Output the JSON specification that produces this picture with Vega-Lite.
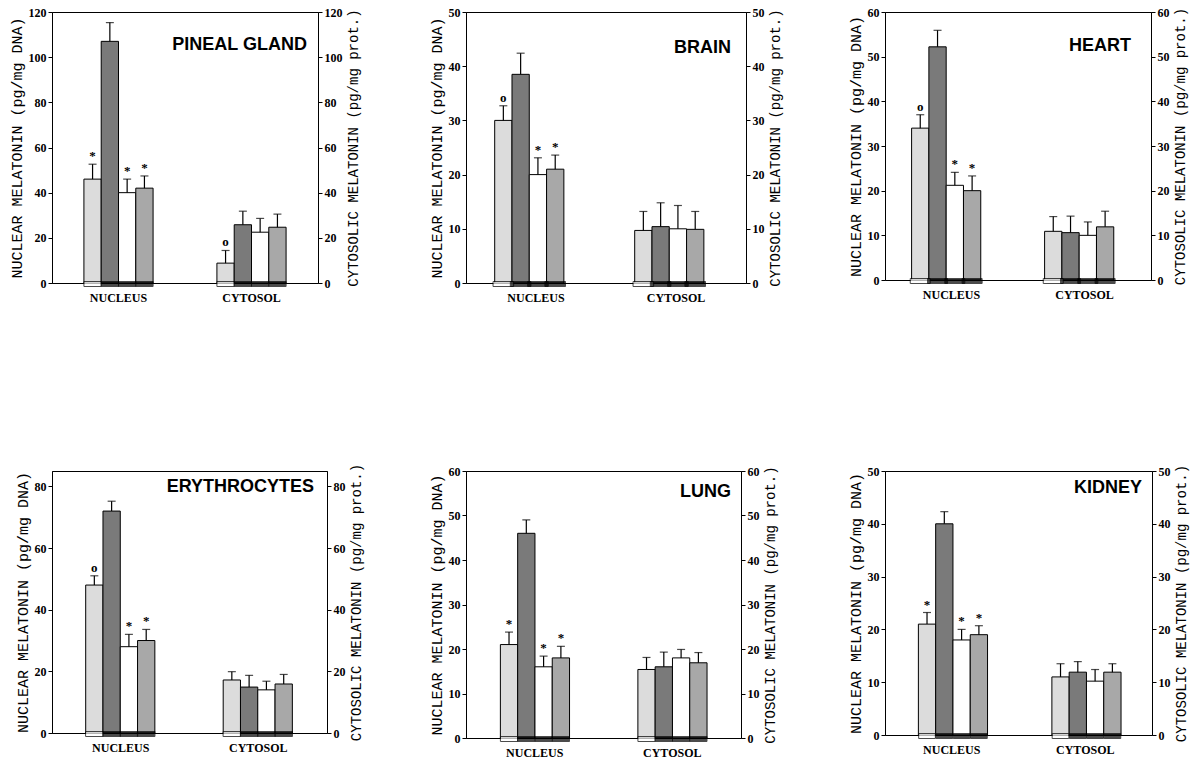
{
"$schema": "https://vega.github.io/schema/vega-lite/v6.json",
"background": "white",
"padding": {"left": 8, "top": 5, "right": 3, "bottom": 3},
"datasets": {"d": [
{"organ":"PINEAL GLAND","comp":"NUCLEUS","grp":"A","v":46,"hi":52.6,"sig":"*"},
{"organ":"PINEAL GLAND","comp":"NUCLEUS","grp":"B","v":107,"hi":115.3,"sig":""},
{"organ":"PINEAL GLAND","comp":"NUCLEUS","grp":"C","v":40,"hi":46,"sig":"*"},
{"organ":"PINEAL GLAND","comp":"NUCLEUS","grp":"D","v":42,"hi":47.4,"sig":"*"},
{"organ":"PINEAL GLAND","comp":"CYTOSOL","grp":"A","v":8.8,"hi":14.4,"sig":"o"},
{"organ":"PINEAL GLAND","comp":"CYTOSOL","grp":"B","v":25.8,"hi":31.8,"sig":""},
{"organ":"PINEAL GLAND","comp":"CYTOSOL","grp":"C","v":22.5,"hi":28.6,"sig":""},
{"organ":"PINEAL GLAND","comp":"CYTOSOL","grp":"D","v":24.7,"hi":30.5,"sig":""},
{"organ":"BRAIN","comp":"NUCLEUS","grp":"A","v":30,"hi":32.7,"sig":"o"},
{"organ":"BRAIN","comp":"NUCLEUS","grp":"B","v":38.5,"hi":42.4,"sig":""},
{"organ":"BRAIN","comp":"NUCLEUS","grp":"C","v":20,"hi":23.1,"sig":"*"},
{"organ":"BRAIN","comp":"NUCLEUS","grp":"D","v":21,"hi":23.6,"sig":"*"},
{"organ":"BRAIN","comp":"CYTOSOL","grp":"A","v":9.7,"hi":13.2,"sig":""},
{"organ":"BRAIN","comp":"CYTOSOL","grp":"B","v":10.4,"hi":14.8,"sig":""},
{"organ":"BRAIN","comp":"CYTOSOL","grp":"C","v":10,"hi":14.3,"sig":""},
{"organ":"BRAIN","comp":"CYTOSOL","grp":"D","v":9.9,"hi":13.2,"sig":""},
{"organ":"HEART","comp":"NUCLEUS","grp":"A","v":34,"hi":37,"sig":"o"},
{"organ":"HEART","comp":"NUCLEUS","grp":"B","v":52.2,"hi":55.9,"sig":""},
{"organ":"HEART","comp":"NUCLEUS","grp":"C","v":21.2,"hi":24.1,"sig":"*"},
{"organ":"HEART","comp":"NUCLEUS","grp":"D","v":20,"hi":23.3,"sig":"*"},
{"organ":"HEART","comp":"CYTOSOL","grp":"A","v":10.9,"hi":14.2,"sig":""},
{"organ":"HEART","comp":"CYTOSOL","grp":"B","v":10.6,"hi":14.3,"sig":""},
{"organ":"HEART","comp":"CYTOSOL","grp":"C","v":10,"hi":13,"sig":""},
{"organ":"HEART","comp":"CYTOSOL","grp":"D","v":11.9,"hi":15.4,"sig":""},
{"organ":"ERYTHROCYTES","comp":"NUCLEUS","grp":"A","v":48,"hi":51,"sig":"o"},
{"organ":"ERYTHROCYTES","comp":"NUCLEUS","grp":"B","v":72,"hi":75.2,"sig":""},
{"organ":"ERYTHROCYTES","comp":"NUCLEUS","grp":"C","v":28,"hi":32,"sig":"*"},
{"organ":"ERYTHROCYTES","comp":"NUCLEUS","grp":"D","v":30,"hi":33.6,"sig":"*"},
{"organ":"ERYTHROCYTES","comp":"CYTOSOL","grp":"A","v":17.2,"hi":19.9,"sig":""},
{"organ":"ERYTHROCYTES","comp":"CYTOSOL","grp":"B","v":14.9,"hi":18.7,"sig":""},
{"organ":"ERYTHROCYTES","comp":"CYTOSOL","grp":"C","v":14,"hi":16.8,"sig":""},
{"organ":"ERYTHROCYTES","comp":"CYTOSOL","grp":"D","v":15.9,"hi":19,"sig":""},
{"organ":"LUNG","comp":"NUCLEUS","grp":"A","v":21,"hi":23.8,"sig":"*"},
{"organ":"LUNG","comp":"NUCLEUS","grp":"B","v":46,"hi":49,"sig":""},
{"organ":"LUNG","comp":"NUCLEUS","grp":"C","v":16,"hi":18.4,"sig":"*"},
{"organ":"LUNG","comp":"NUCLEUS","grp":"D","v":18,"hi":20.6,"sig":"*"},
{"organ":"LUNG","comp":"CYTOSOL","grp":"A","v":15.4,"hi":18.1,"sig":""},
{"organ":"LUNG","comp":"CYTOSOL","grp":"B","v":16,"hi":19.3,"sig":""},
{"organ":"LUNG","comp":"CYTOSOL","grp":"C","v":18,"hi":19.9,"sig":""},
{"organ":"LUNG","comp":"CYTOSOL","grp":"D","v":16.9,"hi":19.2,"sig":""},
{"organ":"KIDNEY","comp":"NUCLEUS","grp":"A","v":21,"hi":23.2,"sig":"*"},
{"organ":"KIDNEY","comp":"NUCLEUS","grp":"B","v":40,"hi":42.3,"sig":""},
{"organ":"KIDNEY","comp":"NUCLEUS","grp":"C","v":18,"hi":20,"sig":"*"},
{"organ":"KIDNEY","comp":"NUCLEUS","grp":"D","v":19,"hi":20.7,"sig":"*"},
{"organ":"KIDNEY","comp":"CYTOSOL","grp":"A","v":11,"hi":13.5,"sig":""},
{"organ":"KIDNEY","comp":"CYTOSOL","grp":"B","v":11.9,"hi":13.9,"sig":""},
{"organ":"KIDNEY","comp":"CYTOSOL","grp":"C","v":10.2,"hi":12.4,"sig":""},
{"organ":"KIDNEY","comp":"CYTOSOL","grp":"D","v":11.9,"hi":13.5,"sig":""}
]},
"columns": 3,
"align": "each",
"spacing": {"row": 158, "column": 64},
"concat": [
{"width": 266, "height": 271, "data": {"name": "d"},
 "title": {"text": "PINEAL GLAND", "anchor": "end", "frame": "group", "orient": "top", "offset": -38, "dy": 24, "baseline": "alphabetic", "dx": -11},
 "transform": [{"filter": "datum.organ === 'PINEAL GLAND'"}],
 "encoding": {
  "x": {"field": "comp", "type": "nominal", "sort": ["NUCLEUS", "CYTOSOL"], "title": null, "scale": {"paddingInner": 0.48, "paddingOuter": 0.24}},
  "xOffset": {"field": "grp", "type": "nominal", "scale": {"paddingInner": 0, "paddingOuter": 0}}
 },
 "layer": [
  {"layer": [
   {"mark": {"type": "bar", "stroke": "black", "strokeWidth": 1}, "encoding": {"y": {"field": "v", "type": "quantitative", "scale": {"domain": [0, 120], "nice": false}, "axis": {"values": [0,20,40,60,80,100,120], "title": "NUCLEAR MELATONIN (pg/mg DNA)"}}, "fill": {"field": "grp", "type": "nominal", "scale": {"domain": ["A","B","C","D"], "range": ["#dcdcdc","#7a7a7a","#ffffff","#a8a8a8"]}, "legend": null}}},
   {"mark": {"type": "rule", "strokeWidth": 1.2, "color": "black"}, "encoding": {"y": {"field": "v", "type": "quantitative"}, "y2": {"field": "hi"}}},
   {"mark": {"type": "tick", "size": 8, "thickness": 1.2, "color": "black"}, "encoding": {"y": {"field": "hi", "type": "quantitative"}}},
   {"mark": {"type": "tick", "size": 17.3, "thickness": 5, "yOffset": 1, "stroke": "black", "strokeWidth": 1}, "encoding": {"y": {"datum": 0}, "fill": {"condition": {"test": "datum.grp === 'A'", "value": "white"}, "value": "black"}}},
   {"mark": {"type": "text", "dy": -8, "font": "Liberation Serif", "fontSize": 13, "fontWeight": "bold", "color": "black"}, "encoding": {"y": {"field": "hi", "type": "quantitative"}, "text": {"field": "sig"}}}
  ]},
  {"mark": {"type": "bar", "opacity": 0}, "encoding": {"y": {"field": "v", "type": "quantitative", "scale": {"domain": [0, 120], "nice": false}, "axis": {"orient": "right", "values": [0,20,40,60,80,100,120], "title": "CYTOSOLIC MELATONIN (pg/mg prot.)", "titleAngle": 270, "titleBaseline": "top", "titleFontSize": 14}}}}
 ],
 "resolve": {"scale": {"y": "independent"}}
},
{"width": 280, "height": 271, "data": {"name": "d"},
 "title": {"text": "BRAIN", "anchor": "end", "frame": "group", "orient": "top", "offset": -40, "dy": 25, "baseline": "alphabetic", "dx": -15},
 "transform": [{"filter": "datum.organ === 'BRAIN'"}],
 "encoding": {
  "x": {"field": "comp", "type": "nominal", "sort": ["NUCLEUS", "CYTOSOL"], "title": null, "scale": {"paddingInner": 0.41, "paddingOuter": 0.205}},
  "xOffset": {"field": "grp", "type": "nominal", "scale": {"paddingInner": 0, "paddingOuter": 0}}
 },
 "layer": [
  {"layer": [
   {"mark": {"type": "bar", "stroke": "black", "strokeWidth": 1}, "encoding": {"y": {"field": "v", "type": "quantitative", "scale": {"domain": [0, 50], "nice": false}, "axis": {"values": [0,10,20,30,40,50], "title": "NUCLEAR MELATONIN (pg/mg DNA)"}}, "fill": {"field": "grp", "type": "nominal", "scale": {"domain": ["A","B","C","D"], "range": ["#dcdcdc","#7a7a7a","#ffffff","#a8a8a8"]}, "legend": null}}},
   {"mark": {"type": "rule", "strokeWidth": 1.2, "color": "black"}, "encoding": {"y": {"field": "v", "type": "quantitative"}, "y2": {"field": "hi"}}},
   {"mark": {"type": "tick", "size": 8, "thickness": 1.2, "color": "black"}, "encoding": {"y": {"field": "hi", "type": "quantitative"}}},
   {"mark": {"type": "tick", "size": 20.6, "thickness": 5, "yOffset": 1, "stroke": "black", "strokeWidth": 1}, "encoding": {"y": {"datum": 0}, "fill": {"condition": {"test": "datum.grp === 'A'", "value": "white"}, "value": "black"}}},
   {"mark": {"type": "text", "dy": -8, "font": "Liberation Serif", "fontSize": 13, "fontWeight": "bold", "color": "black"}, "encoding": {"y": {"field": "hi", "type": "quantitative"}, "text": {"field": "sig"}}}
  ]},
  {"mark": {"type": "bar", "opacity": 0}, "encoding": {"y": {"field": "v", "type": "quantitative", "scale": {"domain": [0, 50], "nice": false}, "axis": {"orient": "right", "values": [0,10,20,30,40,50], "title": "CYTOSOLIC MELATONIN (pg/mg prot.)", "titleAngle": 270, "titleBaseline": "top", "titleFontSize": 14}}}}
 ],
 "resolve": {"scale": {"y": "independent"}}
},
{"width": 266, "height": 268, "data": {"name": "d"},
 "title": {"text": "HEART", "anchor": "end", "frame": "group", "orient": "top", "offset": -37, "dy": 26, "baseline": "alphabetic", "dx": -20},
 "transform": [{"filter": "datum.organ === 'HEART'"}],
 "encoding": {
  "x": {"field": "comp", "type": "nominal", "sort": ["NUCLEUS", "CYTOSOL"], "title": null, "scale": {"paddingInner": 0.4, "paddingOuter": 0.2}},
  "xOffset": {"field": "grp", "type": "nominal", "scale": {"paddingInner": 0, "paddingOuter": 0}}
 },
 "layer": [
  {"layer": [
   {"mark": {"type": "bar", "stroke": "black", "strokeWidth": 1}, "encoding": {"y": {"field": "v", "type": "quantitative", "scale": {"domain": [0, 60], "nice": false}, "axis": {"values": [0,10,20,30,40,50,60], "title": "NUCLEAR MELATONIN (pg/mg DNA)"}}, "fill": {"field": "grp", "type": "nominal", "scale": {"domain": ["A","B","C","D"], "range": ["#dcdcdc","#7a7a7a","#ffffff","#a8a8a8"]}, "legend": null}}},
   {"mark": {"type": "rule", "strokeWidth": 1.2, "color": "black"}, "encoding": {"y": {"field": "v", "type": "quantitative"}, "y2": {"field": "hi"}}},
   {"mark": {"type": "tick", "size": 8, "thickness": 1.2, "color": "black"}, "encoding": {"y": {"field": "hi", "type": "quantitative"}}},
   {"mark": {"type": "tick", "size": 20, "thickness": 5, "yOffset": 1, "stroke": "black", "strokeWidth": 1}, "encoding": {"y": {"datum": 0}, "fill": {"condition": {"test": "datum.grp === 'A'", "value": "white"}, "value": "black"}}},
   {"mark": {"type": "text", "dy": -8, "font": "Liberation Serif", "fontSize": 13, "fontWeight": "bold", "color": "black"}, "encoding": {"y": {"field": "hi", "type": "quantitative"}, "text": {"field": "sig"}}}
  ]},
  {"mark": {"type": "bar", "opacity": 0}, "encoding": {"y": {"field": "v", "type": "quantitative", "scale": {"domain": [0, 60], "nice": false}, "axis": {"orient": "right", "values": [0,10,20,30,40,50,60], "title": "CYTOSOLIC MELATONIN (pg/mg prot.)", "titleAngle": 270, "titleBaseline": "top", "titleFontSize": 14}}}}
 ],
 "resolve": {"scale": {"y": "independent"}}
},
{"width": 275, "height": 262, "data": {"name": "d"},
 "title": {"text": "ERYTHROCYTES", "anchor": "end", "frame": "group", "orient": "top", "offset": -29, "dy": 18, "baseline": "alphabetic", "dx": -13},
 "transform": [{"filter": "datum.organ === 'ERYTHROCYTES'"}],
 "encoding": {
  "x": {"field": "comp", "type": "nominal", "sort": ["NUCLEUS", "CYTOSOL"], "title": null, "scale": {"paddingInner": 0.49, "paddingOuter": 0.245}},
  "xOffset": {"field": "grp", "type": "nominal", "scale": {"paddingInner": 0, "paddingOuter": 0}}
 },
 "layer": [
  {"layer": [
   {"mark": {"type": "bar", "stroke": "black", "strokeWidth": 1}, "encoding": {"y": {"field": "v", "type": "quantitative", "scale": {"domain": [0, 85], "nice": false}, "axis": {"values": [0,20,40,60,80], "title": "NUCLEAR MELATONIN (pg/mg DNA)"}}, "fill": {"field": "grp", "type": "nominal", "scale": {"domain": ["A","B","C","D"], "range": ["#dcdcdc","#7a7a7a","#ffffff","#a8a8a8"]}, "legend": null}}},
   {"mark": {"type": "rule", "strokeWidth": 1.2, "color": "black"}, "encoding": {"y": {"field": "v", "type": "quantitative"}, "y2": {"field": "hi"}}},
   {"mark": {"type": "tick", "size": 8, "thickness": 1.2, "color": "black"}, "encoding": {"y": {"field": "hi", "type": "quantitative"}}},
   {"mark": {"type": "tick", "size": 17.5, "thickness": 5, "yOffset": 1, "stroke": "black", "strokeWidth": 1}, "encoding": {"y": {"datum": 0}, "fill": {"condition": {"test": "datum.grp === 'A'", "value": "white"}, "value": "black"}}},
   {"mark": {"type": "text", "dy": -8, "font": "Liberation Serif", "fontSize": 13, "fontWeight": "bold", "color": "black"}, "encoding": {"y": {"field": "hi", "type": "quantitative"}, "text": {"field": "sig"}}}
  ]},
  {"mark": {"type": "bar", "opacity": 0}, "encoding": {"y": {"field": "v", "type": "quantitative", "scale": {"domain": [0, 85], "nice": false}, "axis": {"orient": "right", "values": [0,20,40,60,80], "title": "CYTOSOLIC MELATONIN (pg/mg prot.)", "titleAngle": 270, "titleBaseline": "top", "titleFontSize": 14}}}}
 ],
 "resolve": {"scale": {"y": "independent"}}
},
{"width": 275, "height": 267, "data": {"name": "d"},
 "title": {"text": "LUNG", "anchor": "end", "frame": "group", "orient": "top", "offset": -31, "dy": 19, "baseline": "alphabetic", "dx": -10},
 "transform": [{"filter": "datum.organ === 'LUNG'"}],
 "encoding": {
  "x": {"field": "comp", "type": "nominal", "sort": ["NUCLEUS", "CYTOSOL"], "title": null, "scale": {"paddingInner": 0.5, "paddingOuter": 0.25}},
  "xOffset": {"field": "grp", "type": "nominal", "scale": {"paddingInner": 0, "paddingOuter": 0}}
 },
 "layer": [
  {"layer": [
   {"mark": {"type": "bar", "stroke": "black", "strokeWidth": 1}, "encoding": {"y": {"field": "v", "type": "quantitative", "scale": {"domain": [0, 60], "nice": false}, "axis": {"values": [0,10,20,30,40,50,60], "title": "NUCLEAR MELATONIN (pg/mg DNA)"}}, "fill": {"field": "grp", "type": "nominal", "scale": {"domain": ["A","B","C","D"], "range": ["#dcdcdc","#7a7a7a","#ffffff","#a8a8a8"]}, "legend": null}}},
   {"mark": {"type": "rule", "strokeWidth": 1.2, "color": "black"}, "encoding": {"y": {"field": "v", "type": "quantitative"}, "y2": {"field": "hi"}}},
   {"mark": {"type": "tick", "size": 8, "thickness": 1.2, "color": "black"}, "encoding": {"y": {"field": "hi", "type": "quantitative"}}},
   {"mark": {"type": "tick", "size": 17.2, "thickness": 5, "yOffset": 1, "stroke": "black", "strokeWidth": 1}, "encoding": {"y": {"datum": 0}, "fill": {"condition": {"test": "datum.grp === 'A'", "value": "white"}, "value": "black"}}},
   {"mark": {"type": "text", "dy": -8, "font": "Liberation Serif", "fontSize": 13, "fontWeight": "bold", "color": "black"}, "encoding": {"y": {"field": "hi", "type": "quantitative"}, "text": {"field": "sig"}}}
  ]},
  {"mark": {"type": "bar", "opacity": 0}, "encoding": {"y": {"field": "v", "type": "quantitative", "scale": {"domain": [0, 60], "nice": false}, "axis": {"orient": "right", "values": [0,10,20,30,40,50,60], "title": "CYTOSOLIC MELATONIN (pg/mg prot.)", "titleAngle": 270, "titleBaseline": "top", "titleFontSize": 14}}}}
 ],
 "resolve": {"scale": {"y": "independent"}}
},
{"width": 267, "height": 264, "data": {"name": "d"},
 "title": {"text": "KIDNEY", "anchor": "end", "frame": "group", "orient": "top", "offset": -29, "dy": 18, "baseline": "alphabetic", "dx": -10},
 "transform": [{"filter": "datum.organ === 'KIDNEY'"}],
 "encoding": {
  "x": {"field": "comp", "type": "nominal", "sort": ["NUCLEUS", "CYTOSOL"], "title": null, "scale": {"paddingInner": 0.5, "paddingOuter": 0.25}},
  "xOffset": {"field": "grp", "type": "nominal", "scale": {"paddingInner": 0, "paddingOuter": 0}}
 },
 "layer": [
  {"layer": [
   {"mark": {"type": "bar", "stroke": "black", "strokeWidth": 1}, "encoding": {"y": {"field": "v", "type": "quantitative", "scale": {"domain": [0, 50], "nice": false}, "axis": {"values": [0,10,20,30,40,50], "title": "NUCLEAR MELATONIN (pg/mg DNA)"}}, "fill": {"field": "grp", "type": "nominal", "scale": {"domain": ["A","B","C","D"], "range": ["#dcdcdc","#7a7a7a","#ffffff","#a8a8a8"]}, "legend": null}}},
   {"mark": {"type": "rule", "strokeWidth": 1.2, "color": "black"}, "encoding": {"y": {"field": "v", "type": "quantitative"}, "y2": {"field": "hi"}}},
   {"mark": {"type": "tick", "size": 8, "thickness": 1.2, "color": "black"}, "encoding": {"y": {"field": "hi", "type": "quantitative"}}},
   {"mark": {"type": "tick", "size": 16.7, "thickness": 5, "yOffset": 1, "stroke": "black", "strokeWidth": 1}, "encoding": {"y": {"datum": 0}, "fill": {"condition": {"test": "datum.grp === 'A'", "value": "white"}, "value": "black"}}},
   {"mark": {"type": "text", "dy": -8, "font": "Liberation Serif", "fontSize": 13, "fontWeight": "bold", "color": "black"}, "encoding": {"y": {"field": "hi", "type": "quantitative"}, "text": {"field": "sig"}}}
  ]},
  {"mark": {"type": "bar", "opacity": 0}, "encoding": {"y": {"field": "v", "type": "quantitative", "scale": {"domain": [0, 50], "nice": false}, "axis": {"orient": "right", "values": [0,10,20,30,40,50], "title": "CYTOSOLIC MELATONIN (pg/mg prot.)", "titleAngle": 270, "titleBaseline": "top", "titleFontSize": 14}}}}
 ],
 "resolve": {"scale": {"y": "independent"}}
}
],
"config": {
 "view": {"stroke": "black", "strokeWidth": 1},
 "title": {"font": "Liberation Sans", "fontSize": 18, "fontWeight": "bold", "color": "black"},
 "axis": {"grid": false, "labelFont": "Liberation Serif", "labelFontWeight": "bold", "labelFontSize": 12, "labelColor": "black", "labelPadding": 2, "titleFont": "Liberation Mono", "titleFontWeight": "normal", "titleFontSize": 15, "titleColor": "black", "titlePadding": 4, "domainColor": "black", "tickColor": "black", "tickSize": 4},
 "axisX": {"labelAngle": 0, "ticks": false, "domain": false, "labelPadding": 9, "labelFontSize": 12}
}
}
